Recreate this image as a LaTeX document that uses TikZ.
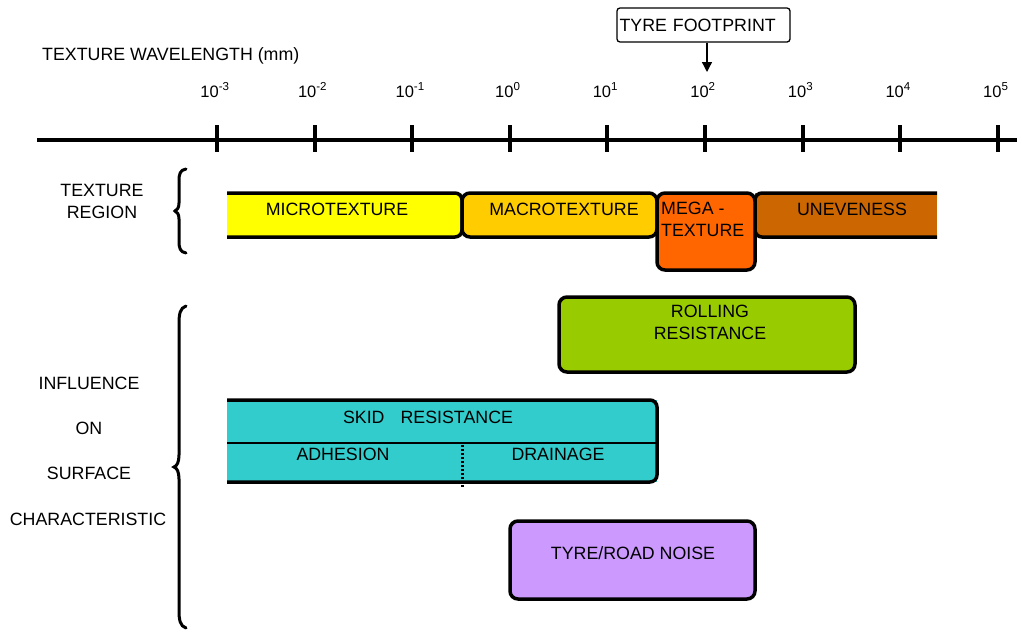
\documentclass[tikz,border=0pt]{standalone}
\usepackage{fontspec}
\setmainfont{Liberation Sans}
\usetikzlibrary{arrows.meta}
\definecolor{microc}{HTML}{FFFF00}
\definecolor{macroc}{HTML}{FFCC00}
\definecolor{megac}{HTML}{FF6600}
\definecolor{unevc}{HTML}{CC6600}
\definecolor{rollc}{HTML}{99CC00}
\definecolor{skidc}{HTML}{33CCCC}
\definecolor{noisec}{HTML}{CC99FF}
\tikzset{
  txt/.style={font=\fontsize{17.8}{22}\selectfont, inner sep=0pt, align=center},
  ticklab/.style={font=\fontsize{16.5}{19}\selectfont, inner sep=0pt, anchor=base},
  boxb/.style={draw, line width=3.5pt, rounded corners=8pt},
  barb/.style={line width=3.5pt, rounded corners=7pt},
  tickmark/.style={line width=4pt},
  bracestyle/.style={line width=3pt, line cap=round}
}
\begin{document}
\begin{tikzpicture}[x=1pt, y=-1pt]
\useasboundingbox (0,0) rectangle (1017,630);

% axis
\node[txt, anchor=base west] (axtitle) at (42,60) {TEXTURE WAVELENGTH (mm)};
\coordinate (axL) at (37,140);
\coordinate (axR) at (1017,140);
\draw[line width=4pt] (axL) -- (axR);
\foreach \i/\e in {0/-3,1/-2,2/-1,3/0,4/1,5/2,6/3,7/4,8/5}{
  \pgfmathsetmacro{\xx}{217+97.6*\i}
  \coordinate (t\i) at (\xx,140);
  \draw[tickmark] ([yshift=15pt]t\i) -- ([yshift=-12pt]t\i);
  \node[ticklab] (lab\i) at (\xx-2,97) {10\textsuperscript{\e}};
}

% tyre footprint
\node[draw, line width=1.3pt, rounded corners=3pt, minimum width=173pt, minimum height=34pt,
      text width=168pt, align=left, inner xsep=2pt, font=\fontsize{17.8}{22}\selectfont]
      (tyre) at (703.5,25) {TYRE FOOTPRINT};
\coordinate (ft) at (707,72);
\draw[line width=1.3pt, -{Triangle[length=10pt,width=10pt]}] (ft |- tyre.south) -- (ft);

% texture region brace
\node[txt] (texreg) at (102,201) {TEXTURE\\REGION};
\draw[bracestyle] (186,169) .. controls (180,170) and (179,174) .. (179,181) -- (179,203)
  .. controls (179,208) and (177,210) .. (175,211) .. controls (177,212) and (179,214) .. (179,219)
  -- (179,241) .. controls (179,248) and (180,252) .. (186,253);

% texture bars
\fill[microc] (227,193) -- (462,193) -- (462,237) -- (227,237) -- cycle;
\draw[barb] (227,193) -- (462,193) -- (462,237) -- (227,237);
\node[txt] (micro) at (337,209) {MICROTEXTURE};

\node[boxb, fill=macroc, minimum width=195pt, minimum height=44pt] (macrobox) at (559.5,215) {};
\node[txt] (macro) at (564,209) {MACROTEXTURE};

\fill[unevc] (755,193) -- (937,193) -- (937,237) -- (755,237) -- cycle;
\draw[barb] (937,193) -- (755,193) -- (755,237) -- (937,237);
\node[txt] (unev) at (852,209) {UNEVENESS};

\node[boxb, fill=megac, minimum width=98pt, minimum height=77pt] (megabox) at (706,231.5) {};
\node[txt, align=left, anchor=north west] (mega) at (661,202) {MEGA -\\TEXTURE};

% influence brace
\node[txt] (infl) at (89,383) {INFLUENCE};
\node[txt] (on) at (89,428) {ON};
\node[txt] (surf) at (89,473) {SURFACE};
\node[txt] (char) at (88,519) {CHARACTERISTIC};
\draw[bracestyle] (186,306) .. controls (180,308) and (179,314) .. (179,324) -- (179,455)
  .. controls (179,462) and (177,466) .. (174,467) .. controls (177,468) and (179,472) .. (179,479)
  -- (179,610) .. controls (179,620) and (180,626) .. (186,628);

% rolling resistance
\node[boxb, fill=rollc, minimum width=296pt, minimum height=75pt] (rollbox) at (707,334.5) {};
\node[txt] (roll) at (710,322) {ROLLING\\RESISTANCE};

% skid resistance
\fill[skidc] (227,400) -- (657,400) -- (657,482) -- (227,482) -- cycle;
\draw[barb] (227,400) -- (657,400) -- (657,482) -- (227,482);
\coordinate (midL) at (227,443);
\coordinate (midR) at (657,443);
\draw[line width=2.5pt] (midL) -- (midR);
\coordinate (dotT) at (462,445);
\coordinate (dotB) at (462,487);
\draw[line width=3pt, dash pattern=on 2pt off 2pt] (dotT) -- (dotB);
\node[txt] (skid) at (428,417) {SKID\hspace{0.9em}RESISTANCE};
\node[txt] (adh) at (343,454) {ADHESION};
\node[txt] (drain) at (558,454) {DRAINAGE};

% noise
\node[boxb, fill=noisec, minimum width=245pt, minimum height=78pt] (noisebox) at (632.5,560) {};
\node[txt] (noise) at (633,553) {TYRE/ROAD NOISE};
\end{tikzpicture}
\end{document}
